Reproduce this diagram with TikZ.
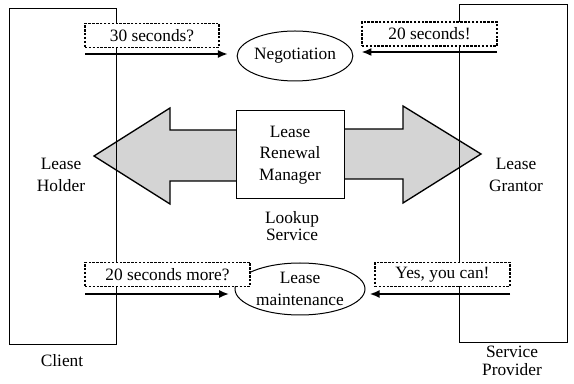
\documentclass[tikz,border=0pt]{standalone}
\usepackage{fontspec}
\setmainfont{Liberation Serif}
\usetikzlibrary{shapes.geometric,arrows.meta}

\tikzset{every picture/.style={line width=0.75pt}}

\begin{document}
\begin{tikzpicture}[x=0.75pt,y=0.75pt,yscale=-1,xscale=1,
	font=\fontsize{13}{16}\selectfont,
	msgbox/.style={draw, line width=0.9pt, dash pattern=on 1.8pt off 1.1pt, fill=white, minimum height=18pt, inner sep=1pt},
	talk/.style={draw, ellipse, inner sep=0pt, fill=white},
	msg/.style={-{Latex[length=7.5pt,width=6pt]}, line width=1.5pt},
	fatarrow/.style={draw, line width=1pt, fill=black!17, line join=miter},
	tight/.style={align=center, font=\fontsize{13}{13.2}\selectfont}]
	\useasboundingbox (0,0) rectangle (574,384);

	%Shape: left fat arrow
	\draw[fatarrow] (240,130) -- (170,130) -- (170,108) -- (94,156) -- (170,204) -- (170,181) -- (240,181) ;
	%Shape: right fat arrow
	\draw[fatarrow] (340,129) -- (403,129) -- (403,106) -- (481,154) -- (403,203) -- (403,179) -- (340,179) ;
	% Lease Renewal Manager
	\node[draw, fill=white, minimum width=81pt, minimum height=66pt, align=center] (lrm) at (290,155) {Lease\\Renewal\\Manager};

	%Shape: Rectangle (client)
	\draw (9,9) rectangle (116,344) ;
	%Shape: Rectangle (service provider)
	\draw (459,5) rectangle (567,342) ;

	%Shape: Ellipses
	\node[talk, minimum width=84pt, minimum height=37.5pt] (nego) at (295,56) {Negotiation};
	\node[talk, minimum width=97.5pt, minimum height=39pt, align=center] (maint) at (300,289) {Lease\\maintenance};

	% message boxes
	\node[msgbox, minimum width=100.5pt] (q1) at (152,35.5) {30 seconds?};
	\node[msgbox, minimum width=101.25pt] (q2) at (429.5,34) {20 seconds!};
	\node[msgbox, minimum width=123.75pt] (q3) at (167.5,274.5) {20 seconds more?};
	\node[msgbox, minimum width=101.25pt] (q4) at (442.5,274.5) {Yes, you can!};

	% message arrows
	\coordinate (s1) at (85,54);
	\coordinate (s2) at (497,52);
	\coordinate (s3) at (85,294);
	\coordinate (s4) at (510,294);
	\draw[msg, shorten >=6.5pt] (s1) -- (s1 -| nego.west);
	\draw[msg, shorten >=6pt] (s2) -- (s2 -| nego.east);
	\draw[msg, shorten >=4pt] (s3) -- (s3 -| maint.west);
	\draw[msg, shorten >=3pt] (s4) -- (s4 -| maint.east);

	% Text Node
	\node[align=center] (holder) at (61,175) {Lease\\Holder};
	\node[align=center] (grantor) at (516,175) {Lease\\Grantor};
	\node[tight] (lookup) at (292,226) {Lookup\\Service};
	\node (client) at (62,361) {Client};
	\node[tight] (provider) at (512,361) {Service\\Provider};

\end{tikzpicture}
\end{document}
